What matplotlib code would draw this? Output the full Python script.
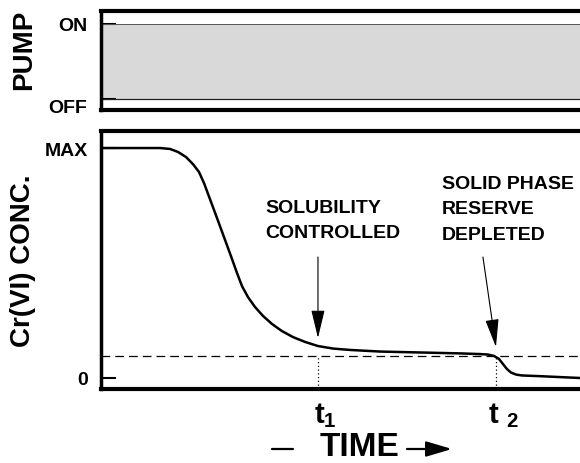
import matplotlib
matplotlib.use("Agg")
import matplotlib.pyplot as plt
from matplotlib.transforms import ScaledTranslation

plt.rcParams["font.family"] = ["Liberation Sans", "DejaVu Sans"]
plt.rcParams["font.weight"] = "bold"
plt.rcParams["mathtext.fontset"] = "custom"
plt.rcParams["mathtext.rm"] = "Liberation Sans:bold"
plt.rcParams["mathtext.it"] = "Liberation Sans:bold"
plt.rcParams["mathtext.bf"] = "Liberation Sans:bold"

# ---------------- data ----------------
pump_time = [0, 100]
pump_state = [1, 1]          # pump ON all along

time = [0, 11.8, 13.8, 15.4, 17.0, 18.4, 19.6, 20.6, 21.8, 23.2, 24.6, 26.0,
        27.2, 28.2, 29.4, 30.8, 32.4, 34.2, 36.2, 38.4, 40.8, 43.4, 46.4,
        49.8, 55.8, 63.8, 71.8, 75.8, 77.4, 78.6, 79.6, 80.4, 81.2, 82.0,
        83.0, 84.2, 87.8, 91.8, 95.8]
conc = [1.0, 1.0, 0.996, 0.983, 0.961, 0.930, 0.896, 0.848, 0.778, 0.696,
        0.613, 0.530, 0.457, 0.400, 0.352, 0.309, 0.270, 0.235, 0.204, 0.178,
        0.157, 0.139, 0.128, 0.122, 0.115, 0.111, 0.107, 0.104, 0.102, 0.096,
        0.083, 0.061, 0.039, 0.024, 0.015, 0.011, 0.008, 0.004, 0.0]
solubility = 0.096
t1 = 43.4
t2 = 79.0
xtick_labels = ["t$_1$", "t $_2$"]

# ---------------- figure ----------------
fig = plt.figure(figsize=(5.8, 4.64), dpi=100)
ax_p = fig.add_axes([0.1741, 0.7608, 0.862, 0.2134])
ax = fig.add_axes([0.1741, 0.1595, 0.862, 0.556])

# --- pump panel
ax_p.fill_between(pump_time, 0, pump_state, color="#d9d9d9", lw=0)
ax_p.plot(pump_time, [1, 1], color="#555555", lw=0.7)
ax_p.plot(pump_time, [0, 0], color="#222222", lw=0.9)
ax_p.set_xlim(0, 100)
ax_p.set_ylim(-0.147, 1.173)
ax_p.set_xticks([])
ax_p.set_yticks([0, 1], labels=["OFF", "ON"], fontsize=14, fontweight="bold")
ax_p.get_yticklabels()[0].set_va("top")
ax_p.tick_params(axis="y", direction="in", length=11, width=1.5, pad=10)
ax_p.set_ylabel("PUMP", fontsize=20, fontweight="bold", va="center")
ax_p.yaxis.set_label_coords(-0.154, 0.62)

# --- concentration panel
ax.plot(time, conc, color="black", lw=1.8)
ax.axhline(solubility, color="black", lw=0.9, dashes=(7, 4))
ax.vlines([t1, t2], -0.05, solubility, color="black", lw=0.9, linestyles=(0, (1, 2)))
ax.set_xlim(0, 100)
ax.set_ylim(-0.0478, 1.074)
ax.set_yticks([0, 1], labels=["0", "MAX"], fontsize=14, fontweight="bold")
ax.tick_params(axis="y", direction="in", length=11, width=1.5, pad=9.5)
ax.set_xticks([t1, t2], labels=xtick_labels, fontsize=21, fontweight="bold")
ax.tick_params(axis="x", length=0, pad=8)
shift = ScaledTranslation(7 / 100, 0, fig.dpi_scale_trans)
for lab in ax.get_xticklabels():
    lab.set_transform(lab.get_transform() + shift)
ax.set_ylabel("Cr(VI) CONC.", fontsize=20, fontweight="bold", va="center")
ax.yaxis.set_label_coords(-0.156, 0.5)
ax.set_xlabel("TIME", fontsize=24, fontweight="bold", va="center")
ax.xaxis.set_label_coords(0.518, -0.221)

for a in (ax_p, ax):
    a.spines["right"].set_visible(False)
    for s in ("top", "bottom"):
        a.spines[s].set_linewidth(3)
    a.spines["left"].set_linewidth(2.5)

# annotations
head = "-|>,head_length=1.25,head_width=0.3"
ax.text(32.8, 0.687, "SOLUBILITY\nCONTROLLED", fontsize=14, fontweight="bold",
        ha="left", va="center", linespacing=1.65)
ax.annotate("", xy=(t1, 0.174), xytext=(t1, 0.526),
            arrowprops=dict(arrowstyle=head, mutation_scale=14, color="black",
                            lw=0.8, shrinkA=0, shrinkB=0))
ax.text(68.2, 0.735, "SOLID PHASE\nRESERVE\nDEPLETED", fontsize=14,
        fontweight="bold", ha="left", va="center", linespacing=1.68)
ax.annotate("", xy=(t2, 0.135), xytext=(76.4, 0.526),
            arrowprops=dict(arrowstyle=head, mutation_scale=14, color="black",
                            lw=0.8, shrinkA=0, shrinkB=0))

# "— TIME →"
ax.annotate("", xy=(0.384, -0.2326), xytext=(0.342, -0.2326), xycoords="axes fraction",
            textcoords="axes fraction", annotation_clip=False,
            arrowprops=dict(arrowstyle="-", color="black", lw=1.6,
                            shrinkA=0, shrinkB=0))
ax.annotate("", xy=(0.702, -0.2326), xytext=(0.612, -0.2326), xycoords="axes fraction",
            textcoords="axes fraction", annotation_clip=False,
            arrowprops=dict(arrowstyle="-|>,head_length=1.58,head_width=0.47",
                            mutation_scale=10, color="black", lw=1.6,
                            shrinkA=0, shrinkB=0))

fig.savefig("out.png", dpi=100)
